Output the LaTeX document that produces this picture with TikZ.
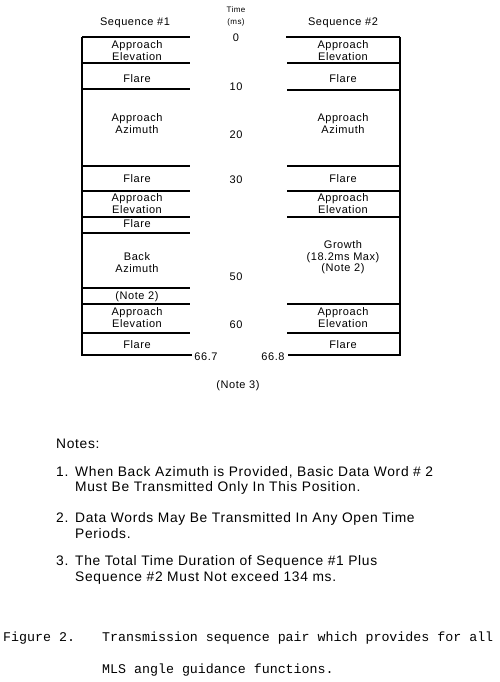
\documentclass[tikz,border=0pt]{standalone}
\usepackage{fontspec}
\newfontfamily\diagfont[LetterSpace=5]{Liberation Sans}
\newfontfamily\capfont{Liberation Mono}
\newcommand{\itemno}[1]{\makebox[19pt][l]{#1}}
\begin{document}
\begin{tikzpicture}[x=1pt,y=-1pt,
    slot/.style={font=\diagfont\fontsize{11}{12}\selectfont,align=center,inner sep=0pt},
    tick/.style={font=\diagfont\fontsize{11}{12}\selectfont,inner sep=0pt},
    note/.style={font=\diagfont\fontsize{13.8}{15.5}\selectfont,align=left,inner sep=0pt,anchor=west},
    bar/.style={line width=1.7pt}]
  \useasboundingbox (0,0) rectangle (500,682);
  % sequence 1
  \draw[bar]
    (82,37) -- (82,355) -- (192,355)
    (82,37) -- (190,37)
    (82,63) -- (190,63)
    (82,89) -- (190,89)
    (82,166) -- (190,166)
    (82,191) -- (190,191)
    (82,217) -- (190,217)
    (82,233) -- (190,233)
    (82,288) -- (190,288)
    (82,304) -- (190,304)
    (82,333) -- (190,333);
  \draw
    (135,23) node[tick] (s1) {Sequence \#1}
    (137,51) node[slot] (ae1) {Approach\\Elevation}
    (137,79) node[slot] (f1) {Flare}
    (137,124) node[slot] (aa1) {Approach\\Azimuth}
    (137,179) node[slot] (f2) {Flare}
    (137,204) node[slot] (ae2) {Approach\\Elevation}
    (137,224) node[slot] (f3) {Flare}
    (137,263) node[slot] (ba) {Back\\Azimuth}
    (137,297) node[slot] (n2) {(Note 2)}
    (137,318) node[slot] (ae3) {Approach\\Elevation}
    (137,345) node[slot] (f4) {Flare}
    (206,357) node[tick] (end1) {66.7};
  % time scale
  \draw
    (236,10) node[tick,font=\diagfont\fontsize{8}{9}\selectfont] (time) {Time}
    (236,22) node[tick,font=\diagfont\fontsize{8}{9}\selectfont] (ms) {(ms)}
    (236,38) node[tick] (t0) {0}
    (236,87) node[tick] (t10) {10}
    (236,135) node[tick] (t20) {20}
    (236,180) node[tick] (t30) {30}
    (236,277) node[tick] (t50) {50}
    (236,325) node[tick] (t60) {60}
    (238,386) node[tick] (n3) {(Note 3)};
  % sequence 2
  \draw[bar]
    (400,37) -- (400,355) -- (288,355)
    (286,37) -- (400,37)
    (287,63) -- (400,63)
    (287,90) -- (400,90)
    (287,166) -- (400,166)
    (287,191) -- (400,191)
    (287,217) -- (400,217)
    (287,304) -- (400,304)
    (287,333) -- (400,333);
  \draw
    (343,23) node[tick] (s2) {Sequence \#2}
    (343,51) node[slot] (be1) {Approach\\Elevation}
    (343,79) node[slot] (g1) {Flare}
    (343,124) node[slot] (ba1) {Approach\\Azimuth}
    (343,179) node[slot] (g2) {Flare}
    (343,204) node[slot] (be2) {Approach\\Elevation}
    (343,257.5) node[slot,font=\diagfont\fontsize{11}{11.5}\selectfont] (gr) {Growth\\(18.2ms Max)\\(Note 2)}
    (343,318) node[slot] (be3) {Approach\\Elevation}
    (343,345) node[slot] (g3) {Flare}
    (273,357) node[tick] (end2) {66.8};
  % notes
  \draw
    (56,444) node[note] (notes) {Notes:}
    (56,480.5) node[note] (t1) {\itemno{1.}When Back Azimuth is Provided, Basic Data Word \# 2\\\hspace*{19pt}Must Be Transmitted Only In This Position.}
    (56,525.5) node[note] (t2) {\itemno{2.}Data Words May Be Transmitted In Any Open Time\\\hspace*{19pt}Periods.}
    (56,570) node[note] (t3) {\itemno{3.}The Total Time Duration of Sequence \#1 Plus\\\hspace*{19pt}Sequence \#2 Must Not exceed 134 ms.};
  % caption
  \draw
    (3,638) node[anchor=west,inner sep=0pt,font=\capfont\fontsize{13.3}{32}\selectfont] (fig) {Figure 2.}
    (102,654) node[anchor=west,inner sep=0pt,align=left,font=\capfont\fontsize{13.3}{32}\selectfont] (cap) {Transmission sequence pair which provides for all\\MLS angle guidance functions.};
\end{tikzpicture}
\end{document}
